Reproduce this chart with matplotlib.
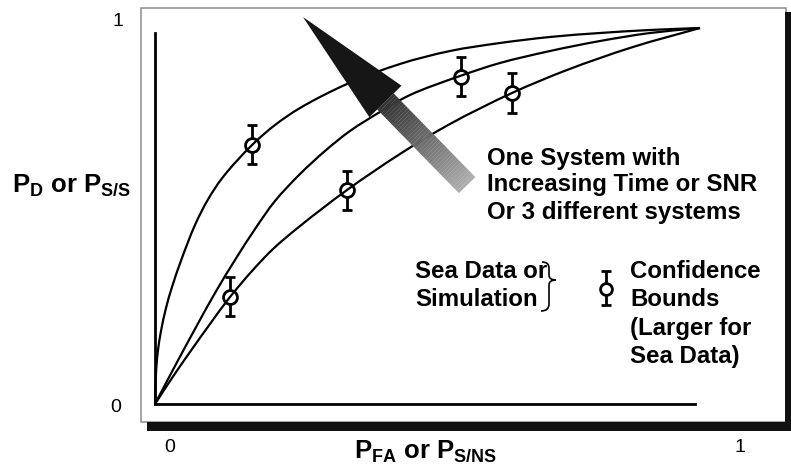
import matplotlib
matplotlib.use('Agg')
import matplotlib.pyplot as plt
from matplotlib.patches import Polygon, Rectangle, PathPatch
from matplotlib.path import Path
import numpy as np

plt.rcParams['font.family'] = ['Liberation Sans', 'DejaVu Sans']
plt.rcParams['mathtext.fontset'] = 'custom'
plt.rcParams['mathtext.rm'] = 'Liberation Sans'
plt.rcParams['mathtext.bf'] = 'Liberation Sans:bold'

# --- ROC curves (P_FA, P_D) ---
top_x = [0, 0.0009, 0.0028, 0.0055, 0.0110, 0.0202, 0.0312, 0.0495, 0.0734, 0.0972, 0.1248,
         0.1780, 0.2202, 0.2661, 0.3523, 0.4495, 0.5413, 0.6330, 0.7248, 0.8165, 0.9083, 1.0]
top_y = [0, 0.0505, 0.1037, 0.1436, 0.1941, 0.2553, 0.3112, 0.3883, 0.4761, 0.5439, 0.6037,
         0.6888, 0.7420, 0.7872, 0.8511, 0.9043, 0.9388, 0.9601, 0.9761, 0.9867, 0.9947, 1.0]

mid_x = [0, 0.0367, 0.0734, 0.1101, 0.1468, 0.1835, 0.2202, 0.2661, 0.3119, 0.3578,
         0.4128, 0.4679, 0.5596, 0.6330, 0.7248, 0.8165, 0.9083, 1.0]
mid_y = [0, 0.1011, 0.1995, 0.2952, 0.3830, 0.4654, 0.5399, 0.6117, 0.6729, 0.7261,
         0.7766, 0.8218, 0.8723, 0.9069, 0.9388, 0.9654, 0.9867, 1.0]

low_x = [0, 0.0312, 0.0642, 0.1009, 0.1376, 0.1780, 0.2165, 0.2661, 0.3523, 0.4495,
         0.5413, 0.6550, 0.7560, 0.8771, 1.0]
low_y = [0, 0.0691, 0.1383, 0.2128, 0.2846, 0.3537, 0.4122, 0.4734, 0.5691, 0.6649,
         0.7447, 0.8271, 0.8883, 0.9495, 1.0]

# sea data / simulation points with confidence bounds
pt_x = [0.178, 0.138, 0.352, 0.562, 0.655]
pt_y = [0.689, 0.285, 0.569, 0.871, 0.827]
pt_err = [0.052, 0.052, 0.052, 0.052, 0.052]


def smooth_path(xs, ys, sx=545.0, sy=376.0):
    # centripetal catmull-rom through the read points, drawn as bezier segments
    p = np.column_stack([xs, ys]).astype(float)
    p = np.vstack([2 * p[0] - p[1], p, 2 * p[-1] - p[-2]])
    scale = np.array([sx, sy])
    d = np.hypot(*((p[1:] - p[:-1]) * scale).T) ** 0.5
    verts = [p[1]]
    codes = [Path.MOVETO]
    for i in range(1, len(p) - 2):
        p0, p1, p2, p3 = p[i - 1], p[i], p[i + 1], p[i + 2]
        d0, d1, d2 = d[i - 1], d[i], d[i + 1]
        m1 = (p1 - p0) / d0 - (p2 - p0) / (d0 + d1) + (p2 - p1) / d1
        m2 = (p2 - p1) / d1 - (p3 - p1) / (d1 + d2) + (p3 - p2) / d2
        verts += [p1 + m1 * d1 / 3, p2 - m2 * d1 / 3, p2]
        codes += [Path.CURVE4] * 3
    return Path(verts, codes)


W, H = 791, 470
fig = plt.figure(figsize=(W / 100, H / 100), dpi=100)

# overlay in pixel units for arrow, labels and key
ov = fig.add_axes([0, 0, 1, 1], zorder=3)
ov.set_xlim(0, W)
ov.set_ylim(H, 0)
ov.axis('off')
ov.patch.set_alpha(0)

# main plotting area
ax = fig.add_axes([155 / W, (H - 404) / H, 545 / W, 376 / H], zorder=2)
ax.set_xlim(0, 1)
ax.set_ylim(0, 1)
ax.patch.set_alpha(0)
ax.spines['top'].set_visible(False)
ax.spines['right'].set_visible(False)
for s in ['left', 'bottom']:
    ax.spines[s].set_linewidth(2.0)
ax.spines['left'].set_bounds(0, 0.987)
ax.spines['bottom'].set_bounds(0, 0.991)
ax.set_xticks([])
ax.set_yticks([])

for cx, cy in [(top_x, top_y), (mid_x, mid_y), (low_x, low_y)]:
    ax.add_patch(PathPatch(smooth_path(cx, cy), fill=False, ec='black', lw=1.6,
                           zorder=4, clip_on=False, joinstyle='round'))

ax.errorbar(pt_x, pt_y, yerr=pt_err, fmt='none', ecolor='black',
            elinewidth=2.0, capsize=3.5, capthick=2.0, zorder=2)
ax.plot(pt_x, pt_y, 'o', ms=10, mfc='white', mec='black', mew=2.0, zorder=3)

# --- frame with drop shadow ---
bg = fig.add_axes([0, 0, 1, 1], zorder=0)
bg.set_xlim(0, W)
bg.set_ylim(H, 0)
bg.axis('off')
bg.add_patch(Rectangle((141, 8), 645, 414, fill=False, ec='#8c8c8c', lw=1.1))
bg.add_patch(Rectangle((785, 12), 6, 419, fc='#111111', ec='none'))
bg.add_patch(Rectangle((147, 422), 644, 9, fc='#111111', ec='none'))

# --- big arrow: dark head, shaft fading to grey ---
tip = np.array([303.0, 17.0])
tail = np.array([467.0, 185.0])
u = (tip - tail) / np.hypot(*(tip - tail))
n = np.array([-u[1], u[0]])
head_len, head_w, shaft_w = 118, 45, 23
base = tip - head_len * u
ov.add_patch(Polygon([tip, base + n * head_w / 2, base - n * head_w / 2],
                     closed=True, fc='#161616', ec='none', zorder=5))
nstrip = 40
grey = np.linspace(0.2, 0.68, nstrip)
for i in range(nstrip):
    a = base + (tail - base) * i / nstrip
    b = base + (tail - base) * (i + 1.05) / nstrip
    ov.add_patch(Polygon([a + n * shaft_w / 2, b + n * shaft_w / 2,
                          b - n * shaft_w / 2, a - n * shaft_w / 2],
                         closed=True, fc=str(grey[i]), ec='none', zorder=4.9))

# --- tick labels and axis titles ---
ov.text(118, 21, '1', fontsize=14, ha='center', va='center')
ov.text(116, 408, '0', fontsize=14, ha='center', va='center')
ov.text(170, 448, '0', fontsize=14, ha='center', va='center')
ov.text(740, 447, '1', fontsize=14, ha='center', va='center')

ov.text(72, 185, r'$\mathbf{P_D}$ or $\mathbf{P_{S/S}}$', fontsize=18.5,
        fontweight='bold', ha='center', va='center')
ov.text(426, 451, r'$\mathbf{P_{FA}}$ or $\mathbf{P_{S/NS}}$', fontsize=18.5,
        fontweight='bold', ha='center', va='center')

# --- annotation ---
note = ['One System with', 'Increasing Time or SNR', 'Or 3 different systems']
for i, line in enumerate(note):
    ov.text(487, 158 + 27 * i, line, fontsize=17.3, fontweight='bold',
            ha='left', va='center')

# --- key ---
ov.text(415, 272, 'Sea Data or', fontsize=17.3, fontweight='bold', va='center')
ov.text(415, 300, 'Simulation', fontsize=17.3, fontweight='bold', va='center')
verts = [(542, 262), (549, 262), (549, 268), (549, 275), (549, 280), (556, 280),
         (549, 280), (549, 285), (549, 304), (549, 311), (541, 311)]
codes = [Path.MOVETO, Path.CURVE3, Path.CURVE3, Path.LINETO, Path.CURVE3, Path.CURVE3,
         Path.CURVE3, Path.CURVE3, Path.LINETO, Path.CURVE3, Path.CURVE3]
ov.add_patch(PathPatch(Path(verts, codes), fill=False, lw=1.2, ec='black'))
ov.errorbar([606], [288], yerr=[17], fmt='none', ecolor='black',
            elinewidth=2.0, capsize=3.5, capthick=2.0)
ov.plot([606], [289], 'o', ms=8.5, mfc='white', mec='black', mew=2.0)
key = ['Confidence', 'Bounds', '(Larger for', 'Sea Data)']
for i, line in enumerate(key):
    ov.text(630, [272, 299, 329, 356][i], line, fontsize=17.3, fontweight='bold',
            va='center')

fig.savefig('out.png', dpi=100)
